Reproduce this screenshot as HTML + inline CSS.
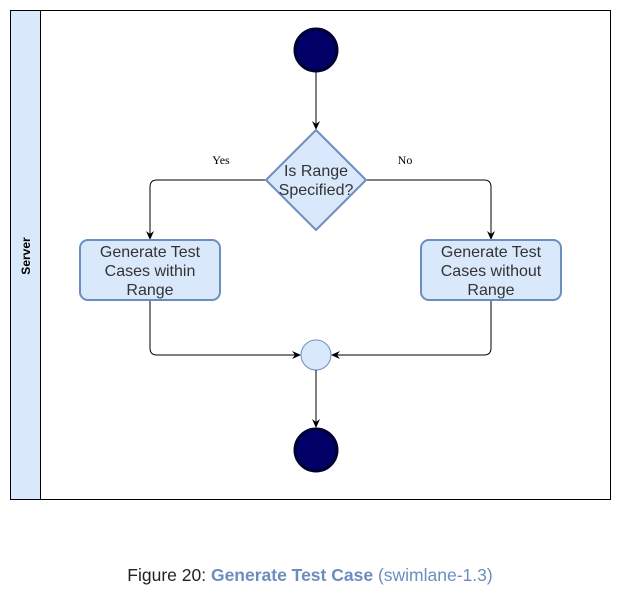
<!DOCTYPE html>
<html><head><style>
body{margin:0;width:621px;height:601px;background:#fff;overflow:hidden}
</style></head><body>
<svg width="621" height="601" xmlns="http://www.w3.org/2000/svg" font-family="Liberation Sans, sans-serif">
<defs><marker id="a" markerWidth="10" markerHeight="10" refX="8" refY="5" orient="auto" markerUnits="userSpaceOnUse"><path d="M0,1 L9,5 L0,9 L3,5 z" fill="#000"/></marker></defs>
<rect x="10.5" y="10.5" width="600" height="489" fill="#fff" stroke="#000"/>
<rect x="10.5" y="10.5" width="30" height="489" fill="#dae8fc" stroke="#000"/>
<text transform="translate(30,256) rotate(-90)" text-anchor="middle" font-size="12" font-weight="bold">Server</text>
<circle cx="316" cy="50" r="21" fill="#000066" stroke="#000033" stroke-width="3"/>
<line x1="316" y1="72" x2="316" y2="129" stroke="#000" marker-end="url(#a)"/>
<polygon points="316,130 366,180 316,230 266,180" fill="#dae8fc" stroke="#6c8ebf" stroke-width="2"/>
<text x="316" y="176" text-anchor="middle" font-size="16" fill="#333">Is Range</text>
<text x="316" y="195" text-anchor="middle" font-size="16" fill="#333">Specified?</text>
<path d="M265,180 H157 Q150,180 150,187 V239" fill="none" stroke="#000" marker-end="url(#a)"/>
<path d="M367,180 H484 Q491,180 491,187 V239" fill="none" stroke="#000" marker-end="url(#a)"/>
<text x="221" y="164" text-anchor="middle" font-size="12" font-family="Liberation Serif, serif">Yes</text>
<text x="405" y="164" text-anchor="middle" font-size="12" font-family="Liberation Serif, serif">No</text>
<rect x="80" y="240" width="140" height="60" rx="8" fill="#dae8fc" stroke="#6c8ebf" stroke-width="2"/>
<text x="150" y="257" text-anchor="middle" font-size="16" fill="#333">Generate Test</text>
<text x="150" y="276" text-anchor="middle" font-size="16" fill="#333">Cases within</text>
<text x="150" y="295" text-anchor="middle" font-size="16" fill="#333">Range</text>
<rect x="421" y="240" width="140" height="60" rx="8" fill="#dae8fc" stroke="#6c8ebf" stroke-width="2"/>
<text x="491" y="257" text-anchor="middle" font-size="16" fill="#333">Generate Test</text>
<text x="491" y="276" text-anchor="middle" font-size="16" fill="#333">Cases without</text>
<text x="491" y="295" text-anchor="middle" font-size="16" fill="#333">Range</text>
<path d="M150,301 V348 Q150,355 157,355 H300" fill="none" stroke="#000" marker-end="url(#a)"/>
<path d="M491,301 V348 Q491,355 484,355 H332" fill="none" stroke="#000" marker-end="url(#a)"/>
<circle cx="316" cy="355" r="15" fill="#dae8fc" stroke="#6c8ebf"/>
<line x1="316" y1="370" x2="316" y2="427" stroke="#000" marker-end="url(#a)"/>
<circle cx="316" cy="450" r="21" fill="#000066" stroke="#000033" stroke-width="3"/>
<text x="310" y="581" text-anchor="middle" font-size="17.5"><tspan fill="#222">Figure 20: </tspan><tspan fill="#6c8ebf" font-weight="bold">Generate Test Case</tspan><tspan fill="#6c8ebf"> (swimlane-1.3)</tspan></text>
</svg>
</body></html>
